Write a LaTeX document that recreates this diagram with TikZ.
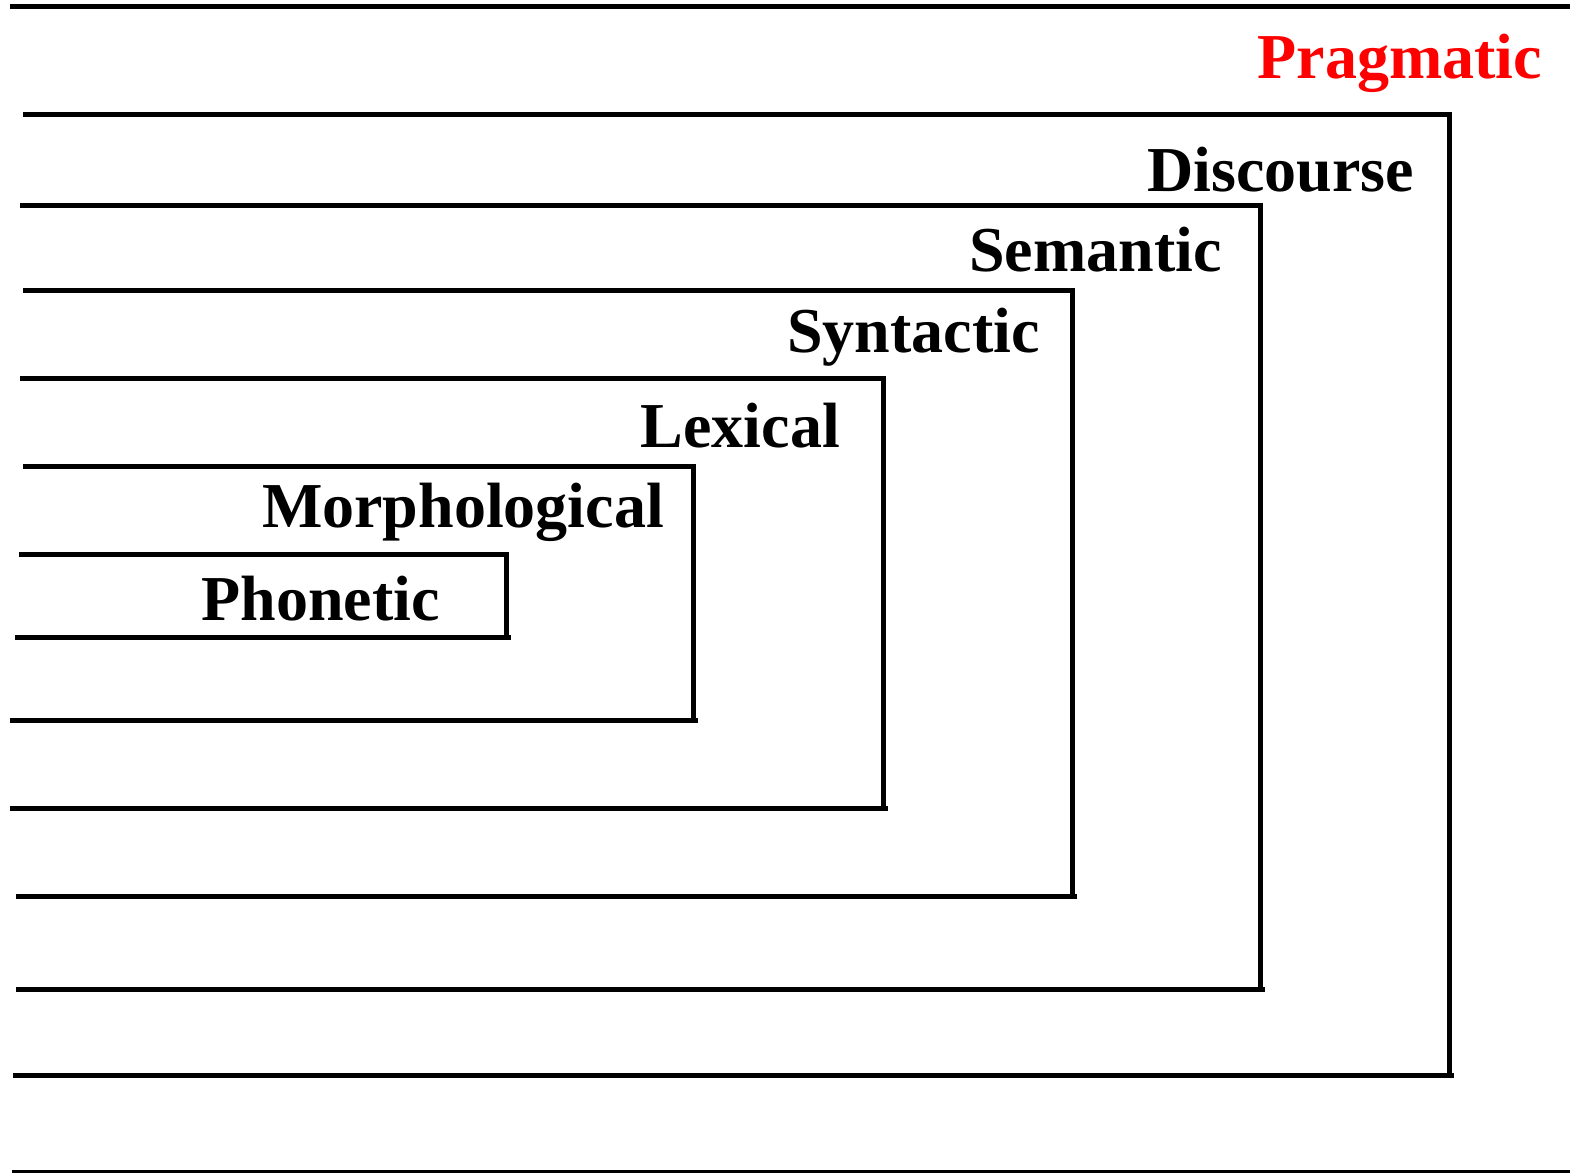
\documentclass[tikz,border=0pt]{standalone}
\usepackage{fontspec}
\setmainfont{Liberation Serif}
\newcommand{\lvlbox}[5]{% left-top x, top y, right x, bottom y, left-bottom x
  \draw[lvl] (#1,#2) -- (#3,#2) -- (#3,#4+2.5);
  \draw[lvl] (#3+5,#4) -- (#5,#4);}
\begin{document}
\begin{tikzpicture}[x=1pt,y=-1pt,
  lvl/.style={line width=5pt,line join=miter},
  lab/.style={anchor=base east,inner sep=0pt,font=\fontsize{64}{70}\selectfont\bfseries}]
\useasboundingbox (0,0) rectangle (1570,1173);
% outer (Pragmatic) frame
\draw[line width=5pt] (10,6) -- (1570,6);
\draw[line width=3pt] (12,1171.5) -- (1570,1171.5);
% nested boxes
\lvlbox{23}{114}{1449}{1075}{13}
\lvlbox{20}{205}{1260}{989}{16}
\lvlbox{23}{290}{1072}{896}{16}
\lvlbox{20}{378}{883}{808}{10}
\lvlbox{23}{466}{693}{720}{10}
\lvlbox{19}{554}{506}{637}{15}
% labels
\node[lab,text={rgb,255:red,255;green,0;blue,0}] (prag) at (1542,78) {Pragmatic};
\node[lab] (disc) at (1414,191) {Discourse};
\node[lab] (sem) at (1222,271) {Semantic};
\node[lab] (syn) at (1040,352) {Syntactic};
\node[lab] (lex) at (840,447) {Lexical};
\node[lab] (mor) at (664,527) {Morphological};
\node[lab] (pho) at (440,620) {Phonetic};
\end{tikzpicture}
\end{document}
